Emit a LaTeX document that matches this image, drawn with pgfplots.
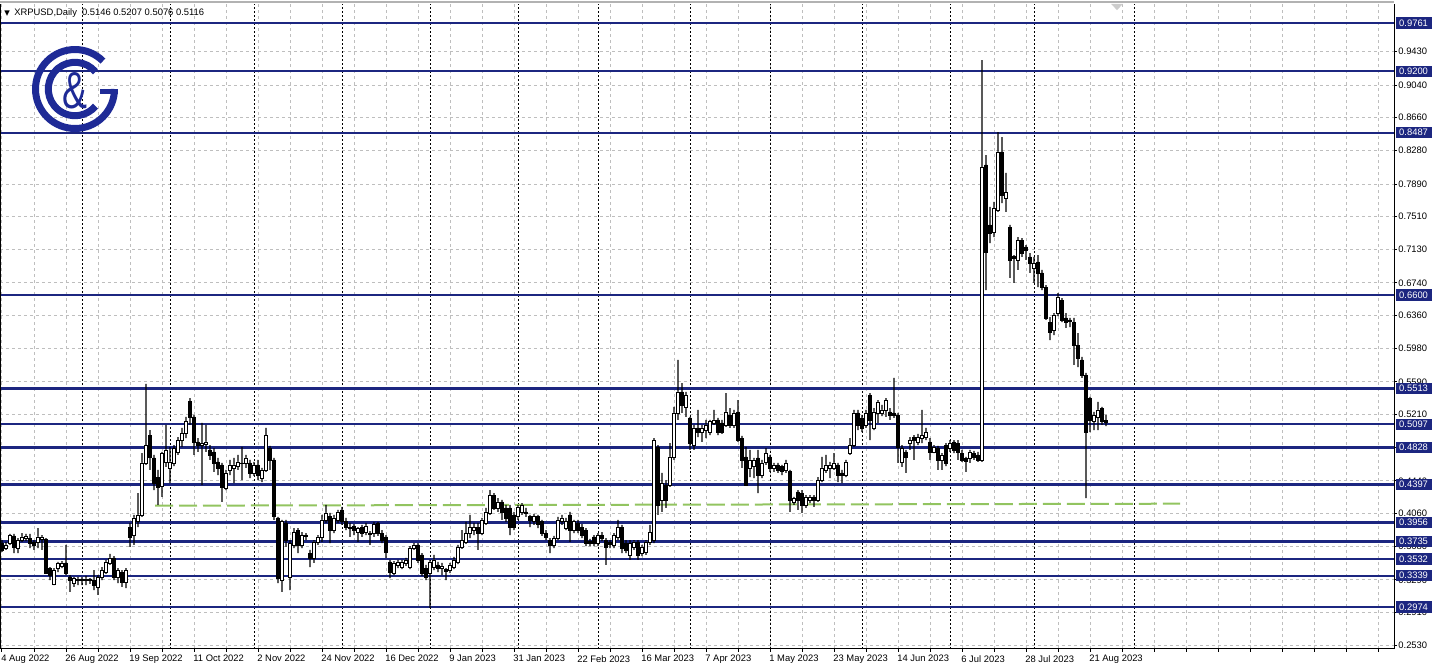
\documentclass[border=0pt]{standalone}
\usepackage{fontspec}
\setmainfont{Liberation Sans}
\newfontfamily\dejavu{DejaVu Sans}
\usepackage{pgfplots}
\usepackage{pgfplotstable}
\pgfplotsset{compat=1.18}
\definecolor{lvl}{RGB}{28,38,128}
\definecolor{logoblue}{RGB}{30,42,150}
\definecolor{grn}{RGB}{146,196,96}
\definecolor{gridc}{RGB}{190,190,190}
\newcommand\lbl{\fontsize{4.7}{5.5}\selectfont}
\pgfplotsset{base/.style={width=697pt,height=322.5pt,scale only axis,
  xmin=-0.5,xmax=348,ymin=0.2487,ymax=0.9982,clip=false}}

\pgfplotstableread{
o h l c
0.3718 0.3753 0.3614 0.3637
0.3660 0.3730 0.3637 0.3695
0.3718 0.3823 0.3695 0.3811
0.3800 0.3823 0.3602 0.3672
0.3660 0.3776 0.3602 0.3753
0.3753 0.3834 0.3730 0.3788
0.3776 0.3823 0.3741 0.3800
0.3776 0.3823 0.3660 0.3718
0.3730 0.3753 0.3637 0.3695
0.3730 0.3892 0.3660 0.3788
0.3765 0.3811 0.3637 0.3788
0.3765 0.3776 0.3358 0.3369
0.3427 0.3439 0.3288 0.3346
0.3242 0.3427 0.3230 0.3404
0.3427 0.3498 0.3381 0.3486
0.3451 0.3509 0.3427 0.3486
0.3486 0.3695 0.3346 0.3369
0.3323 0.3346 0.3149 0.3288
0.3253 0.3323 0.3207 0.3311
0.3288 0.3323 0.3230 0.3300
0.3300 0.3323 0.3230 0.3288
0.3288 0.3335 0.3230 0.3300
0.3300 0.3311 0.3242 0.3288
0.3288 0.3404 0.3172 0.3230
0.3207 0.3346 0.3114 0.3323
0.3323 0.3439 0.3288 0.3404
0.3381 0.3521 0.3358 0.3498
0.3486 0.3591 0.3463 0.3544
0.3544 0.3567 0.3288 0.3323
0.3323 0.3427 0.3253 0.3404
0.3381 0.3404 0.3207 0.3265
0.3265 0.3427 0.3195 0.3404
0.3904 0.3951 0.3672 0.3788
0.3811 0.4044 0.3695 0.4009
0.3963 0.4299 0.3904 0.4044
0.4044 0.4764 0.4021 0.4648
0.4648 0.5566 0.4625 0.4857
0.4973 0.5031 0.4567 0.4718
0.4706 0.4741 0.4334 0.4415
0.4485 0.4567 0.4160 0.4369
0.4381 0.4776 0.4253 0.4764
0.4660 0.5090 0.4602 0.4799
0.4590 0.4834 0.4415 0.4660
0.4648 0.4857 0.4613 0.4822
0.4776 0.4950 0.4741 0.4915
0.4915 0.5055 0.4834 0.4996
0.4996 0.5183 0.4938 0.5125
0.5368 0.5403 0.5090 0.5183
0.5183 0.5206 0.4741 0.4892
0.4892 0.4938 0.4776 0.4857
0.4857 0.5113 0.4392 0.4880
0.4869 0.5090 0.4776 0.4892
0.4799 0.4857 0.4683 0.4741
0.4776 0.4822 0.4544 0.4648
0.4660 0.4706 0.4508 0.4590
0.4625 0.4648 0.4195 0.4369
0.4357 0.4567 0.4334 0.4532
0.4567 0.4683 0.4508 0.4625
0.4590 0.4706 0.4415 0.4625
0.4602 0.4741 0.4567 0.4660
0.4648 0.4834 0.4450 0.4637
0.4648 0.4741 0.4590 0.4706
0.4648 0.4683 0.4473 0.4532
0.4532 0.4660 0.4497 0.4625
0.4625 0.4683 0.4450 0.4508
0.4473 0.4590 0.4427 0.4567
0.4567 0.5055 0.4544 0.4973
0.4822 0.4846 0.4567 0.4683
0.4683 0.4706 0.3986 0.4021
0.4009 0.4021 0.3253 0.3311
0.3288 0.3986 0.3149 0.3963
0.3951 0.3986 0.3672 0.3753
0.3323 0.3753 0.3172 0.3718
0.3695 0.3892 0.3660 0.3846
0.3869 0.3892 0.3602 0.3695
0.3695 0.3846 0.3660 0.3811
0.3811 0.3834 0.3753 0.3800
0.3602 0.3637 0.3439 0.3544
0.3544 0.3753 0.3486 0.3730
0.3730 0.3811 0.3695 0.3788
0.3788 0.4044 0.3730 0.3986
0.3986 0.4160 0.3951 0.4067
0.4021 0.4067 0.3718 0.3869
0.3869 0.4044 0.3834 0.4009
0.3986 0.4102 0.3951 0.4079
0.4102 0.4137 0.3928 0.3963
0.3963 0.4009 0.3869 0.3904
0.3904 0.3951 0.3788 0.3892
0.3916 0.3939 0.3811 0.3869
0.3846 0.3904 0.3730 0.3892
0.3904 0.3928 0.3788 0.3834
0.3846 0.3951 0.3811 0.3916
0.3834 0.3857 0.3695 0.3823
0.3834 0.3963 0.3788 0.3928
0.3951 0.3963 0.3800 0.3834
0.3834 0.3869 0.3718 0.3753
0.3788 0.3811 0.3544 0.3614
0.3498 0.3521 0.3311 0.3381
0.3369 0.3509 0.3346 0.3486
0.3463 0.3521 0.3427 0.3498
0.3439 0.3521 0.3416 0.3498
0.3486 0.3544 0.3451 0.3521
0.3439 0.3683 0.3416 0.3660
0.3660 0.3718 0.3637 0.3695
0.3695 0.3718 0.3486 0.3521
0.3579 0.3602 0.3335 0.3369
0.3427 0.3463 0.3288 0.3323
0.3369 0.3521 0.2963 0.3498
0.3439 0.3579 0.3404 0.3521
0.3463 0.3498 0.3381 0.3427
0.3427 0.3486 0.3346 0.3451
0.3416 0.3427 0.3288 0.3393
0.3404 0.3486 0.3369 0.3463
0.3439 0.3556 0.3416 0.3521
0.3498 0.3695 0.3474 0.3672
0.3672 0.3869 0.3649 0.3753
0.3730 0.3963 0.3707 0.3834
0.3834 0.4044 0.3776 0.3904
0.3869 0.3951 0.3811 0.3904
0.3904 0.3951 0.3637 0.3834
0.3834 0.4009 0.3811 0.3986
0.3951 0.4125 0.3928 0.4079
0.4067 0.4334 0.4044 0.4276
0.4276 0.4299 0.4102 0.4125
0.4125 0.4241 0.4079 0.4195
0.4195 0.4218 0.3986 0.4079
0.4125 0.4160 0.3963 0.4009
0.4125 0.4160 0.3811 0.3904
0.4044 0.4079 0.3869 0.3904
0.4021 0.4160 0.3986 0.4137
0.4079 0.4183 0.4044 0.4160
0.4079 0.4125 0.4021 0.4067
0.4021 0.4044 0.3904 0.3986
0.3963 0.4056 0.3928 0.4021
0.4021 0.4044 0.3892 0.3928
0.3963 0.3986 0.3800 0.3834
0.3834 0.3869 0.3753 0.3788
0.3753 0.3776 0.3602 0.3695
0.3695 0.3800 0.3660 0.3776
0.3776 0.4021 0.3753 0.3986
0.3963 0.4044 0.3928 0.4009
0.3892 0.4009 0.3869 0.3963
0.4044 0.4079 0.3730 0.3869
0.3869 0.3986 0.3834 0.3963
0.3951 0.3986 0.3834 0.3869
0.3904 0.3939 0.3776 0.3811
0.3869 0.3892 0.3683 0.3718
0.3741 0.3765 0.3683 0.3718
0.3788 0.3811 0.3683 0.3718
0.3718 0.3834 0.3683 0.3811
0.3811 0.3846 0.3741 0.3776
0.3753 0.3776 0.3463 0.3672
0.3730 0.3753 0.3660 0.3707
0.3695 0.3834 0.3660 0.3811
0.3788 0.3986 0.3753 0.3904
0.3904 0.3928 0.3602 0.3660
0.3718 0.3753 0.3602 0.3637
0.3579 0.3753 0.3521 0.3718
0.3672 0.3753 0.3637 0.3730
0.3730 0.3753 0.3521 0.3579
0.3602 0.3695 0.3567 0.3672
0.3614 0.3753 0.3579 0.3730
0.3730 0.3928 0.3695 0.3846
0.3753 0.4938 0.3718 0.4915
0.4834 0.4857 0.4044 0.4160
0.4218 0.4532 0.4079 0.4415
0.4392 0.4450 0.4125 0.4218
0.4392 0.4880 0.4369 0.4718
0.4718 0.5299 0.4683 0.5229
0.5229 0.5845 0.5148 0.5473
0.5473 0.5577 0.5229 0.5322
0.5299 0.5473 0.5183 0.5438
0.5171 0.5183 0.4799 0.4880
0.4857 0.5090 0.4799 0.5055
0.5055 0.5264 0.4950 0.5008
0.5008 0.5090 0.4892 0.5055
0.5031 0.5148 0.4938 0.5090
0.5008 0.5148 0.4973 0.5125
0.5113 0.5264 0.5090 0.5148
0.5148 0.5171 0.4973 0.5008
0.5113 0.5148 0.4985 0.5008
0.5090 0.5461 0.5067 0.5241
0.5206 0.5287 0.5055 0.5090
0.5090 0.5264 0.5055 0.5229
0.5241 0.5380 0.4892 0.4915
0.4938 0.4962 0.4590 0.4683
0.4718 0.4834 0.4381 0.4392
0.4590 0.4799 0.4485 0.4683
0.4602 0.4706 0.4473 0.4683
0.4706 0.4799 0.4299 0.4508
0.4508 0.4683 0.4473 0.4648
0.4660 0.4822 0.4625 0.4764
0.4718 0.4741 0.4544 0.4590
0.4590 0.4648 0.4544 0.4625
0.4625 0.4648 0.4532 0.4567
0.4602 0.4625 0.4508 0.4544
0.4567 0.4683 0.4532 0.4648
0.4544 0.4567 0.4079 0.4218
0.4195 0.4253 0.4160 0.4241
0.4311 0.4334 0.4102 0.4218
0.4299 0.4334 0.4067 0.4160
0.4160 0.4276 0.4125 0.4253
0.4218 0.4276 0.4183 0.4253
0.4253 0.4276 0.4137 0.4218
0.4218 0.4485 0.4195 0.4450
0.4450 0.4718 0.4427 0.4590
0.4567 0.4741 0.4532 0.4625
0.4590 0.4660 0.4473 0.4625
0.4590 0.4764 0.4567 0.4648
0.4625 0.4648 0.4427 0.4508
0.4532 0.4567 0.4415 0.4508
0.4508 0.4683 0.4485 0.4660
0.4764 0.4938 0.4741 0.4857
0.4857 0.5264 0.4834 0.5229
0.5229 0.5264 0.5031 0.5090
0.5171 0.5206 0.5008 0.5055
0.5090 0.5264 0.5055 0.5229
0.5438 0.5461 0.4915 0.5148
0.5055 0.5287 0.5031 0.5241
0.5229 0.5380 0.5113 0.5357
0.5229 0.5322 0.5194 0.5264
0.5264 0.5403 0.5183 0.5380
0.5241 0.5287 0.5148 0.5206
0.5229 0.5636 0.5171 0.5206
0.5206 0.5229 0.4648 0.4834
0.4660 0.4857 0.4602 0.4822
0.4776 0.4799 0.4532 0.4718
0.4880 0.4950 0.4799 0.4915
0.4950 0.4973 0.4683 0.4915
0.4892 0.4985 0.4857 0.4950
0.4938 0.5264 0.4880 0.4973
0.4950 0.5055 0.4915 0.5008
0.4892 0.4938 0.4683 0.4776
0.4776 0.4857 0.4764 0.4834
0.4822 0.4846 0.4567 0.4683
0.4683 0.4764 0.4567 0.4741
0.4857 0.4880 0.4613 0.4648
0.4822 0.4915 0.4776 0.4880
0.4892 0.4915 0.4764 0.4799
0.4880 0.4915 0.4683 0.4776
0.4764 0.4799 0.4660 0.4683
0.4695 0.4718 0.4544 0.4671
0.4706 0.4799 0.4648 0.4776
0.4764 0.4788 0.4683 0.4718
0.4741 0.4776 0.4660 0.4683
0.4683 0.9331 0.4660 0.8087
0.8111 0.8227 0.6658 0.7100
0.7414 0.7623 0.7204 0.7321
0.7332 0.7681 0.7274 0.7611
0.7588 0.8494 0.7565 0.8262
0.8262 0.8436 0.7669 0.7762
0.7727 0.8018 0.7565 0.7797
0.7390 0.7414 0.6798 0.7007
0.7053 0.7065 0.6740 0.7030
0.7007 0.7274 0.6891 0.7239
0.7239 0.7262 0.7042 0.7088
0.7158 0.7181 0.7007 0.7123
0.7042 0.7088 0.6856 0.6972
0.6914 0.7042 0.6740 0.6972
0.6984 0.7065 0.6693 0.6856
0.6856 0.6891 0.6658 0.6693
0.6693 0.6716 0.6310 0.6333
0.6286 0.6344 0.6077 0.6170
0.6193 0.6391 0.6135 0.6368
0.6391 0.6623 0.6356 0.6577
0.6542 0.6565 0.6286 0.6310
0.6333 0.6391 0.6217 0.6286
0.6310 0.6333 0.6228 0.6298
0.6286 0.6333 0.5787 0.6019
0.6019 0.6158 0.5763 0.5868
0.5845 0.5880 0.5636 0.5670
0.5670 0.5694 0.4241 0.5008
0.5403 0.5415 0.5008 0.5148
0.5125 0.5241 0.5031 0.5206
0.5183 0.5357 0.5031 0.5264
0.5287 0.5299 0.5090 0.5125
0.5146 0.5207 0.5076 0.5116
}\candles

\begin{document}
\begin{tikzpicture}
% ---------- main axis: grid, levels, labels ----------
\begin{axis}[base, name=main,
  axis x line*=bottom, axis y line*=right,
  axis line style={black,line width=0.5pt,-},
  tick align=outside, major tick length=1.5pt,
  tick style={black,line width=0.5pt},
  xtick={0,8,...,344},
  xticklabels={4 Aug 2022,,26 Aug 2022,,19 Sep 2022,,11 Oct 2022,,2 Nov 2022,,24 Nov 2022,,16 Dec 2022,,9 Jan 2023,,31 Jan 2023,,22 Feb 2023,,16 Mar 2023,,7 Apr 2023,,1 May 2023,,23 May 2023,,14 Jun 2023,,6 Jul 2023,,28 Jul 2023,,21 Aug 2023},
  xticklabel style={font=\lbl,anchor=north west,inner sep=0pt,xshift=-0.5pt,yshift=-1.5pt},
  ytick={0.2530,0.2910,0.3290,0.3680,0.4060,0.4440,0.4830,0.5210,0.5590,0.5980,0.6360,0.6740,0.7130,0.7510,0.7890,0.8280,0.8660,0.9040,0.9430},
  yticklabels={0.2530,0.2910,0.3290,0.3680,0.4060,0.4440,0.4830,0.5210,0.5590,0.5980,0.6360,0.6740,0.7130,0.7510,0.7890,0.8280,0.8660,0.9040,0.9430},
  yticklabel style={font=\lbl,anchor=west,inner sep=0pt,xshift=0.5pt},
  xmajorgrids, ymajorgrids,
  major grid style={gridc,line width=0.5pt,dash pattern=on 1.5pt off 1.5pt},
]
\pgfplotsinvokeforeach{20,42,63,85,107,129,149,172,192,215,237,258,283}{
  \draw[black,line width=0.5pt,dash pattern=on 1pt off 1pt] (axis cs:#1,0.2487) -- (axis cs:#1,0.9982);
}
\pgfplotsinvokeforeach{0.9761,0.9200,0.8487,0.6600,0.5513,0.5097,0.4828,0.4397,0.3956,0.3735,0.3532,0.3339,0.2974}{
  \addplot[lvl,line width=1.1pt,forget plot] coordinates {(-0.5,#1) (348,#1)};
}
\addplot[grn,line width=1pt,dash pattern=on 9pt off 3pt,forget plot] coordinates {(38.25,0.4152) (294.5,0.4175)};
\draw[black,line width=0.5pt] (rel axis cs:0,0) -- (rel axis cs:0,1);
\draw[gray!60,line width=1pt] ([yshift=1pt]rel axis cs:0,1) -- ([yshift=1pt]rel axis cs:1,1);
\fill[gray!40] (axis cs:277.3,0.9982) -- (axis cs:280.2,0.9982) -- (axis cs:278.75,0.9910) -- cycle;
\node[anchor=west,font=\lbl,inner sep=0pt] at ([xshift=2pt,yshift=-4.5pt]rel axis cs:0,1)
  {{\dejavu\fontsize{3.6}{4}\selectfont ▼}\hspace{2.2pt}XRPUSD,Daily\hspace{1.2pt} 0.5146 0.5207 0.5076 0.5116};
\coordinate (lc) at (axis cs:18.25,0.8994);
\end{axis}
% ---------- wicks ----------
\begin{axis}[base, hide axis, ybar stacked, bar width=0.65pt]
\addplot[draw=none,fill=none] table[x expr=\coordindex, y=l] \candles;
\addplot[draw=none,fill=black] table[x expr=\coordindex, y expr=\thisrow{h}-\thisrow{l}] \candles;
\end{axis}
% ---------- bodies and level boxes ----------
\begin{axis}[base, hide axis, ybar stacked, bar width=1.3pt]
\addplot[draw=none,fill=none] table[x expr=\coordindex, y expr={min(\thisrow{o},\thisrow{c})}] \candles;
\addplot[draw=black,fill=white,line width=0.45pt] table[x expr=\coordindex, y expr={max(\thisrow{c}-\thisrow{o},0)}] \candles;
\addplot[draw=black,fill=black,line width=0.45pt] table[x expr=\coordindex, y expr={max(\thisrow{o}-\thisrow{c},0)}] \candles;
\pgfplotsinvokeforeach{0.9761,0.9200,0.8487,0.6600,0.5513,0.5097,0.4828,0.4397,0.3956,0.3735,0.3532,0.3339,0.2974}{
  \node[fill=lvl,text=white,font=\lbl,anchor=west,inner xsep=1.8pt,inner ysep=0pt,minimum height=5.6pt,xshift=0.6pt] at (axis cs:348,#1) {#1};
}
\end{axis}
% ---------- logo ----------
\draw[logoblue,line width=3.5pt] ([shift={(45:19.75pt)}]lc) arc[start angle=45,end angle=360,radius=19.75pt];
\fill[logoblue] ([shift={(12.3pt,-2.6pt)}]lc) rectangle ([shift={(21.5pt,0pt)}]lc);
\draw[logoblue,line width=3.5pt] ([shift={(40:13.35pt)}]lc) arc[start angle=40,end angle=320,radius=13.35pt];
\node[text=logoblue,xscale=0.72,inner sep=0pt] at ([yshift=-1pt]lc) {\fontsize{26}{26}\selectfont\&};
\pgfresetboundingbox
\path[use as bounding box] ([yshift=-11pt]main.south west) rectangle ([xshift=20pt,yshift=2pt]main.north east);
\end{tikzpicture}
\end{document}
